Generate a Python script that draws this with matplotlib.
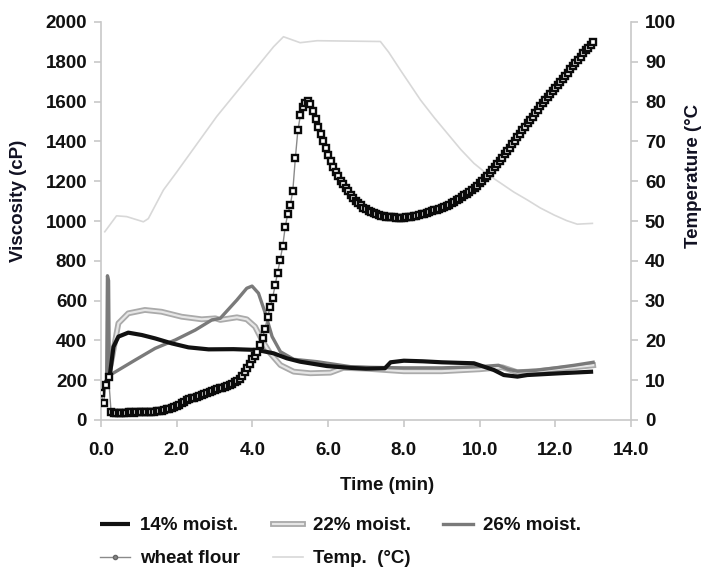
import numpy as np
import matplotlib
matplotlib.use("Agg")
import matplotlib.pyplot as plt
import matplotlib.patheffects as pe
from matplotlib.lines import Line2D

plt.rcParams['font.family'] = ['Liberation Sans', 'DejaVu Sans']
plt.rcParams['font.weight'] = 'bold'

# ---------------- data ----------------
# wheat flour (RVA, 4 s sampling)
wf_time = np.arange(196) / 15.0
wf_visc = [135, 85, 175, 215, 40, 36, 35, 36, 37, 36,
           37, 38, 38, 37, 38, 39, 38, 39, 40, 40,
           41, 42, 43, 45, 47, 50, 53, 57, 61, 65,
           70, 76, 84, 92, 100, 106, 110, 113, 116, 120,
           124, 130, 136, 141, 146, 150, 155, 159, 163, 167,
           172, 177, 183, 190, 198, 208, 222, 240, 260, 283,
           305, 322, 342, 375, 414, 457, 518, 566, 614, 678,
           740, 806, 874, 971, 1035, 1080, 1152, 1315, 1455, 1531,
           1574, 1595, 1605, 1588, 1555, 1512, 1472, 1437, 1402, 1366,
           1332, 1300, 1272, 1247, 1224, 1203, 1185, 1168, 1150, 1132,
           1115, 1102, 1090, 1078, 1067, 1058, 1050, 1044, 1038, 1034,
           1030, 1027, 1024, 1022, 1020, 1019, 1018, 1017, 1017, 1017,
           1017, 1018, 1019, 1021, 1023, 1026, 1029, 1033, 1037, 1041,
           1045, 1049, 1053, 1057, 1061, 1065, 1070, 1075, 1082, 1089,
           1096, 1104, 1112, 1120, 1129, 1138, 1147, 1156, 1166, 1177,
           1189, 1201, 1214, 1227, 1241, 1255, 1270, 1286, 1302, 1318,
           1335, 1352, 1369, 1386, 1404, 1421, 1439, 1456, 1474, 1491,
           1508, 1525, 1542, 1559, 1576, 1592, 1608, 1624, 1640, 1655,
           1670, 1685, 1700, 1715, 1730, 1746, 1762, 1778, 1794, 1810,
           1826, 1842, 1857, 1871, 1885, 1898]

m14_time = [0.13, 0.24, 0.33, 0.46, 0.72, 1.08, 1.43, 1.87, 2.31, 2.84, 3.5, 4.12,
            4.56, 4.91, 5.26, 5.97, 6.59, 7.0, 7.5, 7.65, 8.0, 8.5, 9.0, 9.5, 9.85,
            10.38, 10.64, 11.0, 11.26, 12.14, 13.0]
m14_visc = [190, 235, 368, 419, 439, 427, 410, 385, 365, 355, 356, 352,
            335, 310, 293, 271, 262, 258, 260, 290, 298, 295, 290, 287, 285,
            251, 226, 218, 226, 235, 243]

m22_time = [0.2, 0.28, 0.46, 0.72, 1.16, 1.6, 2.13, 2.66, 3.02, 3.15, 3.59, 3.85,
            4.07, 4.25, 4.47, 4.74, 5.09, 5.53, 6.06, 6.4, 7.0, 7.6, 8.0, 9.0,
            10.0, 10.6, 11.0, 11.5, 12.0, 12.5, 13.0]
m22_visc = [230, 301, 486, 536, 553, 544, 519, 506, 511, 503, 516, 506,
            469, 402, 335, 276, 243, 235, 238, 262, 258, 250, 245, 245,
            255, 265, 240, 245, 255, 265, 275]

m26_time = [0.15, 0.17, 0.20, 0.22, 0.24, 0.9, 1.43, 1.96, 2.49, 2.93, 3.15, 3.59,
            3.85, 3.99, 4.16, 4.34, 4.52, 4.74, 5.09, 5.71, 6.59, 7.0, 8.0, 9.0,
            10.0, 10.5, 10.75, 11.0, 11.5, 12.0, 12.5, 13.0]
m26_visc = [220, 725, 700, 230, 226, 301, 360, 402, 452, 503, 511, 603,
            662, 673, 637, 536, 419, 343, 305, 293, 268, 265, 262, 262,
            268, 275, 255, 245, 250, 262, 275, 290]

temp_time = [0.1, 0.41, 0.68, 1.12, 1.25, 1.65, 2.0, 3.06, 4.56, 4.82, 5.26, 5.71,
             7.38, 7.6, 7.91, 8.2, 8.44, 8.8, 9.15, 9.5, 9.85, 10.2, 10.56, 10.9,
             11.26, 11.6, 11.97, 12.3, 12.58, 12.98]
temp_val = [47.3, 51.3, 51.1, 49.8, 50.6, 57.8, 62.3, 76.3, 93.8, 96.3, 94.8, 95.3,
            95.1, 92.4, 87.9, 83.8, 80.4, 76.0, 72.0, 68.0, 64.5, 61.8, 59.5, 57.3,
            55.3, 53.3, 51.5, 50.1, 49.2, 49.4]

x_ticks = [0, 2, 4, 6, 8, 10, 12, 14]
y_ticks = list(range(0, 2001, 200))
t_ticks = list(range(0, 101, 10))

# ---------------- figure ----------------
W, H = 705, 573
fig = plt.figure(figsize=(W / 100, H / 100), dpi=100)
ax = fig.add_axes([101 / W, 1 - 420 / H, (631 - 101) / W, (420 - 22) / H])
ax2 = ax.twinx()

spine_c = '#c8c8c8'
fs = 13.5

# temperature (right axis)
ax2.plot(temp_time, temp_val, color='#d8d8d8', lw=1.2, zorder=1)

l14, = ax.plot(m14_time, m14_visc, color='#111111', lw=3.0, solid_capstyle='butt', zorder=4)
l22, = ax.plot(m22_time, m22_visc, color='#e6e6e6', lw=1.6, zorder=3,
               path_effects=[pe.Stroke(linewidth=4.2, foreground='#aaaaaa'), pe.Normal()])
l26, = ax.plot(m26_time, m26_visc, color='#7a7a7a', lw=2.4, zorder=3)
lwf, = ax.plot(wf_time, wf_visc, color='#8a8a8a', lw=1.0, marker='s', ms=4.4,
               mfc='white', mec='#0a0a0a', mew=1.7, zorder=5)

ax.set_zorder(ax2.get_zorder() + 1)
ax.patch.set_visible(False)

ax.set_xlim(0, 14)
ax.set_ylim(0, 2000)
ax2.set_ylim(0, 100)
ax.set_xticks(x_ticks)
ax.set_xticklabels([f'{v:.1f}' for v in x_ticks])
ax.set_yticks(y_ticks)
ax2.set_yticks(t_ticks)

for a in (ax, ax2):
    for s in a.spines.values():
        s.set_color(spine_c)
        s.set_linewidth(1.2)
    a.spines['top'].set_visible(False)
ax.spines['right'].set_visible(False)
ax2.spines['left'].set_visible(False)
ax2.spines['bottom'].set_visible(False)

ax.tick_params(axis='x', direction='out', length=5, width=1.2, color=spine_c,
               pad=11, labelsize=fs)
ax.tick_params(axis='y', direction='out', length=5, width=1.2, color=spine_c,
               pad=5, labelsize=fs)
ax2.tick_params(axis='y', direction='out', length=5, width=1.2, color=spine_c,
                pad=5, labelsize=fs)
for lab in ax.get_xticklabels() + ax.get_yticklabels() + ax2.get_yticklabels():
    lab.set_fontweight('bold')
    lab.set_color('#111111')

fig.text(18.5 / W, 1 - 201 / H, 'Viscosity (cP)', rotation=90, ha='center', va='center',
         fontsize=fs, fontweight='bold', color='#111122')
fig.text(693 / W, 1 - 176 / H, 'Temperature (°C', rotation=90, ha='center', va='center',
         fontsize=fs, fontweight='bold', color='#111122')
fig.text(387 / W, 1 - 485 / H, 'Time (min)', ha='center', va='center',
         fontsize=fs, fontweight='bold', color='#111111')

# legend: three columns placed at the reference positions
h_wf = Line2D([], [], color='#8a8a8a', lw=1.0, marker='o', ms=3, mfc='#888888', mec='#666666')
h_tp = Line2D([], [], color='#d8d8d8', lw=1.2)
columns = [([l14, h_wf], ['14% moist.', 'wheat flour'], 100),
           ([l22, h_tp], ['22% moist.', 'Temp.  (°C)'], 273),
           ([l26], ['26% moist.'], 443)]
for hs, ls, x0 in columns:
    leg = fig.legend(hs, ls, ncol=1, loc='upper left',
                     bbox_to_anchor=(x0 / W, 1 - 517 / H), frameon=False,
                     prop={'size': fs, 'weight': 'bold'}, handlelength=1.6,
                     handletextpad=0.55, labelspacing=0.85,
                     borderpad=0, borderaxespad=0)
    for t in leg.get_texts():
        t.set_color('#111111')

fig.savefig('out.png', dpi=100)
